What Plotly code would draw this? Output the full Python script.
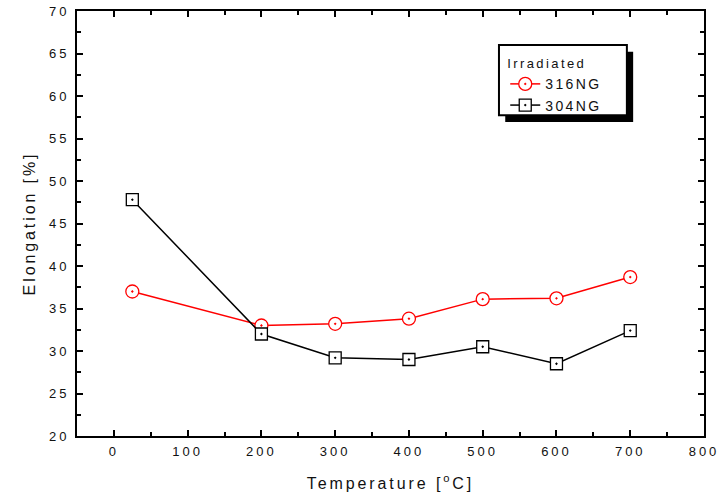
import plotly.graph_objects as go

temperature = [25, 200, 300, 400, 500, 600, 700]
elong_316ng = [37.0, 33.0, 33.2, 33.8, 36.1, 36.2, 38.7]
elong_304ng = [47.8, 32.0, 29.2, 29.0, 30.5, 28.5, 32.4]

x_ticks = [0, 100, 200, 300, 400, 500, 600, 700, 800]
y_ticks = [20, 25, 30, 35, 40, 45, 50, 55, 60, 65, 70]

FONT = "Liberation Sans, Arial, sans-serif"
TXT = "#111111"

fig = go.Figure()
fig.add_trace(go.Scatter(
    x=temperature, y=elong_316ng, name="316NG", mode="lines+markers",
    line=dict(color="#ff0000", width=1.5),
    marker=dict(symbol="circle-dot", size=13, color="white",
                line=dict(color="#ff0000", width=1.3)),
))
fig.add_trace(go.Scatter(
    x=temperature, y=elong_304ng, name="304NG", mode="lines+markers",
    line=dict(color="#000000", width=1.5),
    marker=dict(symbol="square-dot", size=12, color="white",
                line=dict(color="#000000", width=1.3)),
))

# legend box with drop shadow
fig.add_shape(type="rect", xref="paper", yref="paper",
              x0=0.683, x1=0.887, y0=0.739, y1=0.904,
              fillcolor="black", line=dict(width=0), layer="above")
fig.add_shape(type="rect", xref="paper", yref="paper",
              x0=0.673, x1=0.877, y0=0.755, y1=0.920,
              fillcolor="white", line=dict(color="black", width=2), layer="above")

axis_common = dict(
    showline=True, linecolor="black", linewidth=2, mirror="ticks",
    ticks="inside", ticklen=6, tickwidth=1.5, tickcolor="black",
    showgrid=False, zeroline=False, automargin=False,
    tickfont=dict(family=FONT, size=13, color=TXT),
)

fig.update_xaxes(
    range=[-50, 800], tickmode="array", tickvals=x_ticks,
    ticktext=[str(v) for v in x_ticks],
    minor=dict(ticks="inside", ticklen=4, dtick=50, tick0=0, tickcolor="black", tickwidth=1.5),
    title=dict(text="Temperature [<sup>o</sup>C]", font=dict(family=FONT, size=16, color=TXT), standoff=20),
    ticklabelstandoff=2,
    **axis_common,
)
fig.update_yaxes(
    range=[20, 70], tickmode="array", tickvals=y_ticks,
    ticktext=[str(v) for v in y_ticks],
    minor=dict(ticks="inside", ticklen=4, dtick=2.5, tick0=20, tickcolor="black", tickwidth=1.5),
    title=dict(text="Elongation [%]", font=dict(family=FONT, size=16, color=TXT)),
    ticklabelstandoff=3,
    **axis_common,
)

fig.update_layout(
    width=719, height=498,
    margin=dict(l=77, r=15, t=11, b=62, autoexpand=False),
    plot_bgcolor="white", paper_bgcolor="white",
    showlegend=True,
    legend=dict(
        title=dict(text="Irradiated", font=dict(family=FONT, size=13, color=TXT)),
        font=dict(family=FONT, size=14, color=TXT),
        x=0.683, y=0.905, xanchor="left", yanchor="top",
        bgcolor="rgba(0,0,0,0)", borderwidth=0,
        tracegroupgap=0, entrywidth=100, entrywidthmode="pixels",
    ),
)

post = """
var s = document.createElement('style');
s.textContent = '.xtick text, .ytick text {letter-spacing: 3px;}' +
  ' .g-xtitle text, .g-ytitle text {letter-spacing: 2.9px;}' +
  ' .legend text {letter-spacing: 2.4px;}';
document.head.appendChild(s);
document.querySelectorAll('.legend, .legend *').forEach(function(e){
  if (e.hasAttribute && e.hasAttribute('clip-path')) { e.removeAttribute('clip-path'); }
});
"""

fig.write_html("out.html", post_script=post)
